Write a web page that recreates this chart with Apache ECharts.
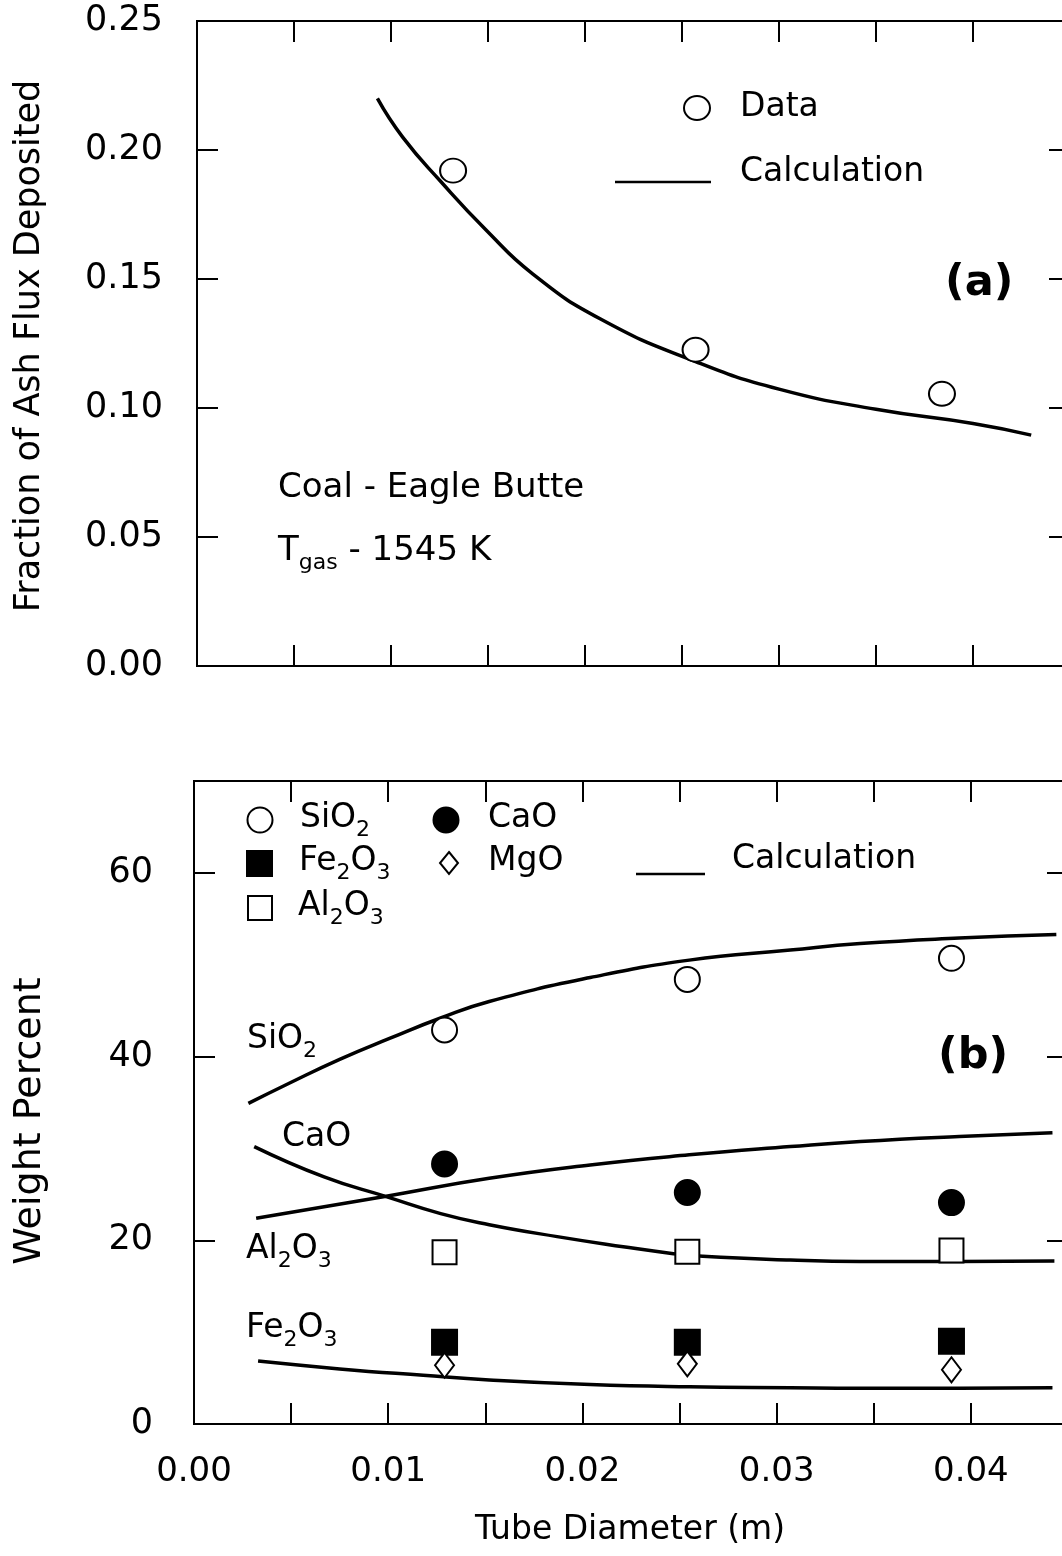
<!DOCTYPE html>
<html>
<head>
<meta charset="utf-8">
<script src="https://cdn.jsdelivr.net/npm/echarts@6/dist/echarts.min.js"></script>
<style>
html, body { margin: 0; padding: 0; background: #fff; overflow: hidden; }
#chart { width: 1076px; height: 1556px; }
</style>
</head>
<body>
<div id="chart"></div>
<script>
// ---- panel (a): fraction of ash flux deposited ----
var diamA = [0.0132, 0.0257, 0.0384];
var fracData = [0.192, 0.1226, 0.1055];
var calcAx = [0.0093, 0.0106, 0.0126, 0.0149, 0.0173, 0.0208, 0.0257, 0.0300, 0.0350, 0.0400, 0.0430];
var calcAy = [0.220, 0.205, 0.1875, 0.169, 0.152, 0.1345, 0.118, 0.1073, 0.0995, 0.0940, 0.0895];

// ---- panel (b): weight percent ----
var diamB = [0.0129, 0.0254, 0.0390];
var sio2 = [42.9, 48.4, 50.7];
var cao = [28.3, 25.2, 24.1];
var al2o3 = [18.7, 18.75, 18.9];
var fe2o3 = [8.9, 8.9, 9.0];
var mgo = [6.4, 6.55, 5.9];

var sio2CalcX = [0.0028, 0.0049, 0.0075, 0.0101, 0.0127, 0.0152, 0.0204, 0.0255, 0.0307, 0.0343, 0.0394, 0.0444];
var sio2CalcY = [34.9, 37.1, 39.7, 42.0, 44.2, 46.0, 48.6, 50.5, 51.6, 52.3, 52.9, 53.3];
var caoCalcX = [0.0031, 0.0067, 0.0099, 0.0127, 0.0152, 0.0187, 0.0221, 0.0245, 0.0262, 0.0307, 0.0343, 0.0394, 0.0443];
var caoCalcY = [30.2, 26.9, 24.75, 22.9, 21.7, 20.4, 19.3, 18.6, 18.25, 17.85, 17.7, 17.7, 17.75];
var al2o3CalcX = [0.0032, 0.0099, 0.0152, 0.0204, 0.0255, 0.0307, 0.0343, 0.0394, 0.0442];
var al2o3CalcY = [22.4, 24.8, 26.75, 28.2, 29.3, 30.2, 30.75, 31.3, 31.7];
var fe2o3CalcX = [0.0033, 0.0075, 0.0118, 0.0152, 0.0204, 0.0255, 0.0307, 0.0343, 0.0394, 0.0442];
var fe2o3CalcY = [6.85, 6.0, 5.3, 4.8, 4.3, 4.05, 3.95, 3.9, 3.9, 3.95];

var xTicks = [0, 0.01, 0.02, 0.03, 0.04];
var yTicksA = [0, 0.05, 0.10, 0.15, 0.20, 0.25];
var yTicksB = [0, 20, 40, 60];

var FONT = 'DejaVu Sans';

function zip(xs, ys) {
    return xs.map(function (x, i) { return [x, ys[i]]; });
}
function isTick(v, list) {
    return list.some(function (t) { return Math.abs(t - v) < 1e-9; });
}

function tick() {
    return {show: true, inside: true, length: 21, lineStyle: {color: '#000', width: 2}};
}
function xAxis(grid, pos, labels) {
    var ax = {
        type: 'value', gridIndex: grid, position: pos, min: 0, max: 0.045, interval: 0.005,
        axisLine: {show: false, onZero: false}, axisTick: tick(), splitLine: {show: false},
        axisLabel: {show: false}
    };
    if (labels) {
        ax.axisLabel = {
            show: true, margin: 31, fontSize: 34, fontFamily: FONT, color: '#000',
            formatter: function (v) { return isTick(v, xTicks) ? v.toFixed(2) : ''; }
        };
    }
    return ax;
}
function yAxis(grid, pos, max, interval, ticks, dec, margin) {
    var ax = {
        type: 'value', gridIndex: grid, position: pos, min: 0, max: max, interval: interval,
        axisLine: {show: false, onZero: false}, axisTick: tick(), splitLine: {show: false},
        axisLabel: {show: false}
    };
    if (margin) {
        ax.axisLabel = {
            show: true, margin: margin, fontSize: 35, fontFamily: FONT, color: '#000',
            formatter: function (v) { return isTick(v, ticks) ? v.toFixed(dec) : ''; }
        };
    }
    return ax;
}

function calcLine(name, xi, xs, ys) {
    return {
        name: name, type: 'line', xAxisIndex: xi, yAxisIndex: xi,
        data: zip(xs, ys), smooth: 0.5, symbol: 'none',
        lineStyle: {color: '#000', width: 3.5}, z: 2
    };
}
function dots(name, xi, xs, ys, symbol, size, filled) {
    return {
        name: name, type: 'scatter', xAxisIndex: xi, yAxisIndex: xi,
        data: zip(xs, ys), symbol: symbol, symbolSize: size,
        itemStyle: {color: filled ? '#000' : '#fff', borderColor: '#000', borderWidth: 2, opacity: 1},
        z: 5
    };
}

// text helper; parts like [['SiO', 0], ['2', 1]] with 1 = subscript
var ctx = document.createElement('canvas').getContext('2d');
function chem(x, y, parts, size) {
    var out = [], cx = x;
    parts.forEach(function (p) {
        var fs = p[1] ? Math.round(size * 0.66) : size;
        out.push({
            type: 'text', x: cx, y: p[1] ? y + size * 0.36 : y,
            style: {text: p[0], fontSize: fs, fontFamily: FONT, fill: '#000', verticalAlign: 'middle', align: 'left'}
        });
        ctx.font = fs + 'px "' + FONT + '"';
        cx += ctx.measureText(p[0]).width;
    });
    return out;
}
function txt(x, y, s, size, bold, rot) {
    return {
        type: 'text', x: x, y: y, rotation: rot || 0,
        style: {text: s, fontSize: size, fontWeight: bold ? 'bold' : 'normal', fontFamily: FONT,
            fill: '#000', verticalAlign: 'middle', align: rot ? 'center' : 'left'}
    };
}
var open = {fill: '#fff', stroke: '#000', lineWidth: 2};
var solid = {fill: '#000', stroke: '#000', lineWidth: 2};

var graphics = [].concat(
    // axis titles
    [txt(30, 346, 'Fraction of Ash Flux Deposited', 35, false, Math.PI / 2),
     txt(30, 1121, 'Weight Percent', 38, false, Math.PI / 2),
     {type: 'text', x: 630, y: 1530, style: {text: 'Tube Diameter (m)', fontSize: 33, fontFamily: FONT,
         fill: '#000', align: 'center', verticalAlign: 'middle'}}],
    // panel (a) legend + notes
    [{type: 'ellipse', shape: {cx: 697, cy: 108, rx: 13, ry: 12}, style: open},
     txt(740, 107, 'Data', 33),
     {type: 'line', shape: {x1: 615, y1: 182, x2: 711, y2: 182}, style: {stroke: '#000', lineWidth: 2.5}},
     txt(740, 172, 'Calculation', 33),
     txt(945, 284, '(a)', 43, true),
     txt(278, 488, 'Coal - Eagle Butte', 34)],
    chem(278, 551, [['T', 0], ['gas', 1], [' - 1545 K', 0]], 34),
    // panel (b) legend
    [{type: 'circle', shape: {cx: 260, cy: 820, r: 12.5}, style: open},
     {type: 'rect', shape: {x: 247, y: 851, width: 25, height: 25}, style: solid},
     {type: 'rect', shape: {x: 248, y: 896, width: 24, height: 24}, style: open},
     {type: 'circle', shape: {cx: 446, cy: 820, r: 12.5}, style: solid},
     {type: 'polygon', shape: {points: [[449, 852], [458, 863], [449, 874], [440, 863]]}, style: open},
     {type: 'line', shape: {x1: 636, y1: 874, x2: 705, y2: 874}, style: {stroke: '#000', lineWidth: 2.5}},
     txt(488, 818, 'CaO', 33),
     txt(488, 861, 'MgO', 33),
     txt(732, 859, 'Calculation', 33),
     txt(938, 1057, '(b)', 43, true)],
    chem(300, 818, [['SiO', 0], ['2', 1]], 33),
    chem(299, 861, [['Fe', 0], ['2', 1], ['O', 0], ['3', 1]], 33),
    chem(298, 906, [['Al', 0], ['2', 1], ['O', 0], ['3', 1]], 33),
    // panel (b) curve labels
    chem(247, 1039, [['SiO', 0], ['2', 1]], 33),
    [txt(282, 1137, 'CaO', 33)],
    chem(246, 1249, [['Al', 0], ['2', 1], ['O', 0], ['3', 1]], 33),
    chem(246, 1328, [['Fe', 0], ['2', 1], ['O', 0], ['3', 1]], 33)
);

var myChart = echarts.init(document.getElementById('chart'));
var option = {
    backgroundColor: '#ffffff',
    animation: false,
    grid: [
        {left: 197, top: 21, width: 873, height: 645, show: true, borderColor: '#000', borderWidth: 2, backgroundColor: 'transparent'},
        {left: 194, top: 781, width: 874, height: 643, show: true, borderColor: '#000', borderWidth: 2, backgroundColor: 'transparent'}
    ],
    xAxis: [xAxis(0, 'bottom', false), xAxis(0, 'top', false), xAxis(1, 'bottom', true), xAxis(1, 'top', false)],
    yAxis: [
        yAxis(0, 'left', 0.25, 0.05, yTicksA, 2, 34),
        yAxis(0, 'right', 0.25, 0.05, yTicksA, 2, 0),
        yAxis(1, 'left', 70, 20, yTicksB, 0, 41),
        yAxis(1, 'right', 70, 20, yTicksB, 0, 0)
    ],
    series: [
        calcLine('Calculation', 0, calcAx, calcAy),
        dots('Data', 0, diamA, fracData, 'circle', [26, 24], false),
        calcLine('SiO2 calc', 2, sio2CalcX, sio2CalcY),
        calcLine('CaO calc', 2, caoCalcX, caoCalcY),
        calcLine('Al2O3 calc', 2, al2o3CalcX, al2o3CalcY),
        calcLine('Fe2O3 calc', 2, fe2o3CalcX, fe2o3CalcY),
        dots('SiO2', 2, diamB, sio2, 'circle', 25, false),
        dots('CaO', 2, diamB, cao, 'circle', 25, true),
        dots('Al2O3', 2, diamB, al2o3, 'rect', 24, false),
        dots('Fe2O3', 2, diamB, fe2o3, 'rect', 25, true),
        dots('MgO', 2, diamB, mgo, 'diamond', [19, 25], false)
    ],
    graphic: {elements: graphics}
};
myChart.setOption(option);
</script>
</body>
</html>
